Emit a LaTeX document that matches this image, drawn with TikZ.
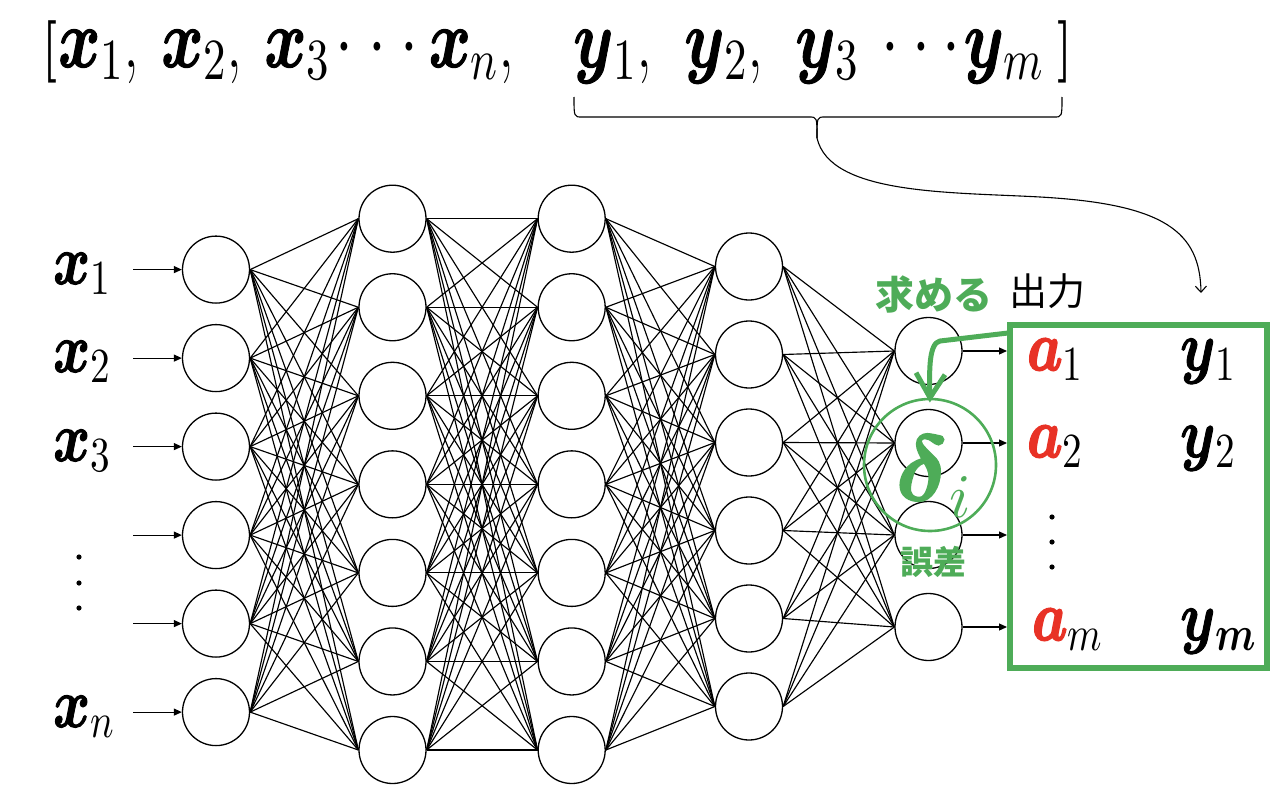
\documentclass[tikz,border=0pt]{standalone}
\usepackage{fontspec}
\DeclareFontShape{OML}{cmm}{m}{it}{<->cmmi10}{}
\DeclareFontShape{OML}{cmm}{b}{it}{<->cmmib10}{}
\DeclareFontShape{OMS}{cmsy}{m}{n}{<->cmsy10}{}
\DeclareFontShape{OMS}{cmsy}{b}{n}{<->cmbsy10}{}
\DeclareFontShape{OT1}{cmr}{m}{n}{<->cmr10}{}
\DeclareFontShape{OT1}{cmr}{bx}{n}{<->cmbx10}{}
\newfontfamily\jp{Noto Sans CJK JP}
\newcommand\hv[2]{\special{pdf:literal direct #1 w 2 Tr}#2\special{pdf:literal direct 0 Tr}}
\newcommand\bv[3][0.9]{\mbox{\hv{#1}{\boldmath$#2$}}$_{#3}$}
\newcommand\cdts[1]{$\cdot$\hspace{#1}$\cdot$\hspace{#1}$\cdot$}
\usetikzlibrary{arrows.meta,calc}
\definecolor{gr}{RGB}{78,172,88}
\definecolor{rd}{RGB}{232,50,38}
\begin{document}
\begin{tikzpicture}[x=1pt,y=-1pt,
  neuron/.style={circle, draw, line width=1.3pt, minimum size=67pt, inner sep=0pt},
  conn/.style={line width=1.15pt},
  inarrow/.style={line width=1.2pt, -{Triangle[length=8pt,width=7pt]}},
  lbl/.style={inner sep=0pt, anchor=base west, font=\fontsize{56}{60}\selectfont},
  toptext/.style={inner sep=0pt, anchor=base west},
  dotm/.style={fill=black},
  jpg/.style={font=\jp\bfseries\fontsize{39}{40}\selectfont, text=gr, inner sep=0pt},
]
\useasboundingbox (0,0) rectangle (1280,792);

% ---------- layers ----------
\foreach \i in {1,...,6} \node[neuron] (a\i) at (216,{269.6+88.5*(\i-1)}) {};
\foreach \i in {1,...,7} \node[neuron] (b\i) at (392.5,{218.7+88.55*(\i-1)}) {};
\foreach \i in {1,...,7} \node[neuron] (c\i) at (571.7,{218.7+88.55*(\i-1)}) {};
\foreach \i in {1,...,6} \node[neuron] (d\i) at (749,{266.5+88*(\i-1)}) {};
\foreach \i in {1,...,4} \node[neuron] (e\i) at (928.5,{351+92*(\i-1)}) {};

% ---------- connections ----------
\foreach \i in {1,...,6} \foreach \j in {1,...,7} \draw[conn] (a\i.east) -- (b\j.west);
\foreach \i in {1,...,7} \foreach \j in {1,...,7} \draw[conn] (b\i.east) -- (c\j.west);
\foreach \i in {1,...,7} \foreach \j in {1,...,6} \draw[conn] (c\i.east) -- (d\j.west);
\foreach \i in {1,...,6} \foreach \j in {1,...,4} \draw[conn] (d\i.east) -- (e\j.west);

% ---------- input arrows ----------
\foreach \i in {1,...,6} {
  \coordinate (in\i) at (133,{269.6+88.5*(\i-1)});
  \draw[inarrow] (in\i) -- (a\i.west);
}
% ---------- output box and arrows ----------
\node[draw=gr, line width=6.5pt, minimum width=257pt, minimum height=343pt, inner sep=0pt] (box) at (1138.5,496.5) {};
\foreach \i in {1,...,4} {
  \coordinate (out\i) at (1007,{351+92*(\i-1)});
  \draw[inarrow] (e\i.east) -- (out\i);
}

% ---------- input labels ----------
\node[lbl] (lx1) at (53,284) {\scalebox{1}[1.25]{\bv{x}{1}}};
\node[lbl] (lx2) at (53,372) {\scalebox{1}[1.25]{\bv{x}{2}}};
\node[lbl] (lx3) at (53,461) {\scalebox{1}[1.25]{\bv{x}{3}}};
\node[lbl] (lxn) at (53,727) {\scalebox{1}[1.25]{\bv{x}{n}}};
\fill[dotm] (79,557) circle (2.6);
\fill[dotm] (79,583) circle (2.6);
\fill[dotm] (79,608) circle (2.6);

% ---------- box labels ----------
\node[lbl] (ba1) at (1027,370) {\scalebox{1}[1.25]{\bv[1.5]{\color{rd}a}{1}}};
\node[lbl] (by1) at (1180,370) {\scalebox{1}[1.25]{\bv{y}{1}}};
\node[lbl] (ba2) at (1027,457) {\scalebox{1}[1.25]{\bv[1.5]{\color{rd}a}{2}}};
\node[lbl] (by2) at (1180,457) {\scalebox{1}[1.25]{\bv{y}{2}}};
\node[lbl] (bam) at (1032,640) {\scalebox{1}[1.25]{\bv[1.5]{\color{rd}a}{m}}};
\node[lbl] (bym) at (1180,640) {\scalebox{1}[1.25]{\bv{y}{\mbox{\boldmath$\scriptstyle m$}}}};
\fill[dotm] (1052,517) circle (2.6);
\fill[dotm] (1052,542) circle (2.6);
\fill[dotm] (1052,567) circle (2.6);

% ---------- top vector ----------
\node[toptext] (tl) at (42,67)
  {\scalebox{1}[1.3]{\fontsize{48}{50}\selectfont\textbf{[}\hspace{1pt}\fontsize{64}{66}\selectfont\bv{x}{1},\hspace{22pt}\bv{x}{2},\hspace{22pt}\bv{x}{3}\hspace{6pt}\cdts{15pt}\hspace{10pt}\bv{x}{n},}};
\node[toptext] (tr) at (573,67)
  {\scalebox{1}[1.3]{\fontsize{64}{66}\selectfont\bv{y}{1},\hspace{32pt}\bv{y}{2},\hspace{32pt}\bv{y}{3}\hspace{23pt}\cdts{13pt}\hspace{3pt}\bv{y}{m}\hspace{14pt}\fontsize{48}{50}\selectfont\textbf{]}}};

% ---------- brace and curved arrow ----------
\coordinate (bl) at (574,97);
\coordinate (br) at (1062,97);
\coordinate (bt) at (817,138);
\coordinate (ce) at (1201,293);
\draw[line width=1.1pt] (bl) .. controls (574,117) .. (582,117) -- (809,117) .. controls (817,117) .. (bt);
\draw[line width=1.1pt] (br) .. controls (1062,117) .. (1054,117) -- (825,117) .. controls (817,117) .. (bt);
\draw[line width=1.1pt, -{Straight Barb[length=6pt,width=11pt]}] (bt) .. controls (830,195) and (950,192) .. (1040,197) .. controls (1165,204) and (1200,232) .. (ce);

% ---------- labels on the right ----------
\node[jpg] (motomeru) at (934,294.5) {求める};
\node[inner sep=0pt, font=\jp\fontsize{38}{40}\selectfont] (shutsu) at (1047,291.5) {出力};

\node[draw=gr, circle, line width=2.6pt, minimum size=132pt, inner sep=0pt] (errc) at (930,465) {};
\node[inner sep=0pt, anchor=base west, text=gr, font=\fontsize{92}{96}\selectfont] (delta) at (896,500)
  {\mbox{\hv{2}{\boldmath$\delta$}}\hspace{2pt}\raisebox{-17pt}{\fontsize{62}{64}\selectfont$i$}};
\node[jpg, font=\jp\bfseries\fontsize{33}{35}\selectfont] (gosa) at (933,562) {誤差};

\coordinate (gs) at (1008,333);
\draw[gr, line width=5pt, line join=round] (gs) -- (940,341) .. controls (929,343) and (929,370) .. (errc.north);
\draw[gr, line width=5pt, line join=miter] ($(errc.north)+(-14,-25)$) -- (errc.north) -- ($(errc.north)+(15,-23)$);
\end{tikzpicture}
\end{document}
